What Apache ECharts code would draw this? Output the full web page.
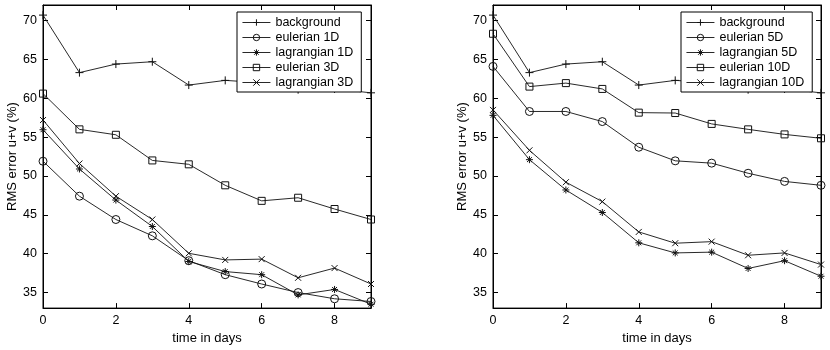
<!DOCTYPE html>
<html>
<head>
<meta charset="utf-8">
<script src="https://cdn.jsdelivr.net/npm/echarts@6/dist/echarts.min.js"></script>
<style>html,body{margin:0;padding:0;background:#fff}#c{width:830px;height:350px}</style>
</head>
<body>
<div id="c"></div>
<script>
var days = [0, 1, 2, 3, 4, 5, 6, 7, 8, 9];
var xTicks = [0, 2, 4, 6, 8];
var yTicks = [35, 40, 45, 50, 55, 60, 65, 70];

var background   = [70.7, 63.3, 64.4, 64.7, 61.7, 62.3, 62.0, 61.1, 61.2, 60.7];
var eulerian1D   = [51.9, 47.4, 44.4, 42.3, 39.1, 37.3, 36.1, 35.0, 34.2, 33.85];
var lagrangian1D = [55.95, 50.9, 46.9, 43.5, 39.0, 37.7, 37.3, 34.7, 35.4, 33.5];
var eulerian3D   = [60.6, 56.0, 55.3, 52.0, 51.5, 48.8, 46.8, 47.2, 45.75, 44.4];
var lagrangian3D = [57.2, 51.6, 47.4, 44.4, 40.05, 39.2, 39.3, 36.9, 38.15, 36.1];
var eulerian5D   = [64.1, 58.3, 58.3, 57.0, 53.7, 51.95, 51.65, 50.35, 49.3, 48.8];
var lagrangian5D = [57.8, 52.1, 48.2, 45.3, 41.4, 40.1, 40.2, 38.1, 39.1, 37.1];
var eulerian10D  = [68.3, 61.5, 61.95, 61.2, 58.15, 58.1, 56.7, 56.0, 55.35, 54.85];
var lagrangian10D= [58.5, 53.3, 49.2, 46.7, 42.8, 41.35, 41.55, 39.8, 40.1, 38.6];

var leftNames  = ['background', 'eulerian 1D', 'lagrangian 1D', 'eulerian 3D', 'lagrangian 3D'];
var rightNames = ['background', 'eulerian 5D', 'lagrangian 5D', 'eulerian 10D', 'lagrangian 10D'];

var SYM = {
  plus:   'path://M1,0L1,2M0,1L2,1',
  circle: 'path://M2,1A1,1,0,1,1,0,1A1,1,0,1,1,2,1Z',
  star:   'path://M1,0L1,2M0,1L2,1M0.3,0.3L1.7,1.7M0.3,1.7L1.7,0.3',
  square: 'path://M0,0L2,0L2,2L0,2Z',
  cross:  'path://M0,0L2,2M0,2L2,0'
};
var SIZE = {plus: 8, circle: 8, star: 7, square: 7, cross: 6};
var FONT = 'Liberation Sans, Arial, Helvetica, sans-serif';

function pts(arr) { return days.map(function (d, i) { return [d, arr[i]]; }); }
function mk(name, arr, sym, gi) {
  return {
    type: 'line', name: name, xAxisIndex: gi, yAxisIndex: gi,
    data: pts(arr), symbol: SYM[sym], symbolSize: SIZE[sym],
    showAllSymbol: true, animation: false,
    lineStyle: {color: '#111', width: 0.9},
    itemStyle: {color: 'rgba(0,0,0,0)', borderColor: '#111', borderWidth: 1}
  };
}

function xAx(gi, top) {
  return {
    type: 'value', gridIndex: gi, min: 0, max: 9, position: top ? 'top' : 'bottom',
    name: top ? '' : 'time in days', nameLocation: 'middle', nameGap: 20,
    nameTextStyle: {color: '#000', fontSize: 13, fontFamily: FONT},
    axisLine: {show: true, onZero: false, lineStyle: {color: '#000', width: 1}},
    axisTick: {show: true, inside: true, length: 5, customValues: xTicks, lineStyle: {color: '#000'}},
    axisLabel: {show: !top, customValues: xTicks, margin: 6, color: '#000', fontSize: 12.5, fontFamily: FONT},
    splitLine: {show: false}
  };
}
function yAx(gi, right) {
  return {
    type: 'value', gridIndex: gi, min: 33, max: 72, position: right ? 'right' : 'left',
    name: right ? '' : 'RMS error u+v (%)', nameLocation: 'middle', nameGap: 24,
    nameTextStyle: {color: '#000', fontSize: 13, fontFamily: FONT},
    axisLine: {show: true, onZero: false, lineStyle: {color: '#000', width: 1}},
    axisTick: {show: true, inside: true, length: 5, customValues: yTicks, lineStyle: {color: '#000'}},
    axisLabel: {show: !right, customValues: yTicks, margin: 6, color: '#000', fontSize: 12.5, fontFamily: FONT},
    splitLine: {show: false}
  };
}
function lg(names, left) {
  return {
    data: names, orient: 'vertical', left: left, top: 12,
    padding: [3, 8, 2, 5], itemWidth: 28, itemHeight: 8, itemGap: 0,
    backgroundColor: '#fff', borderColor: '#000', borderWidth: 1, borderRadius: 0,
    selectedMode: false,
    lineStyle: {color: '#111', width: 0.9},
    itemStyle: {color: 'rgba(0,0,0,0)', borderColor: '#111', borderWidth: 1},
    textStyle: {color: '#000', fontSize: 12.5, lineHeight: 15, fontFamily: FONT}
  };
}

var chart = echarts.init(document.getElementById('c'), null, {renderer: 'canvas'});
chart.setOption({
  backgroundColor: '#fff',
  animation: false,
  grid: [
    {left: 43, top: 5, width: 328, height: 308, show: true, borderColor: '#000', borderWidth: 1, backgroundColor: '#fff'},
    {left: 493, top: 5, width: 328, height: 308, show: true, borderColor: '#000', borderWidth: 1, backgroundColor: '#fff'}
  ],
  xAxis: [xAx(0, false), xAx(1, false), xAx(0, true), xAx(1, true)],
  yAxis: [yAx(0, false), yAx(1, false), yAx(0, true), yAx(1, true)],
  legend: [lg(leftNames, 237), lg(rightNames, 681)],
  series: [
    mk('background', background, 'plus', 0),
    mk('eulerian 1D', eulerian1D, 'circle', 0),
    mk('lagrangian 1D', lagrangian1D, 'star', 0),
    mk('eulerian 3D', eulerian3D, 'square', 0),
    mk('lagrangian 3D', lagrangian3D, 'cross', 0),
    mk('background', background, 'plus', 1),
    mk('eulerian 5D', eulerian5D, 'circle', 1),
    mk('lagrangian 5D', lagrangian5D, 'star', 1),
    mk('eulerian 10D', eulerian10D, 'square', 1),
    mk('lagrangian 10D', lagrangian10D, 'cross', 1)
  ]
});
</script>
</body>
</html>
